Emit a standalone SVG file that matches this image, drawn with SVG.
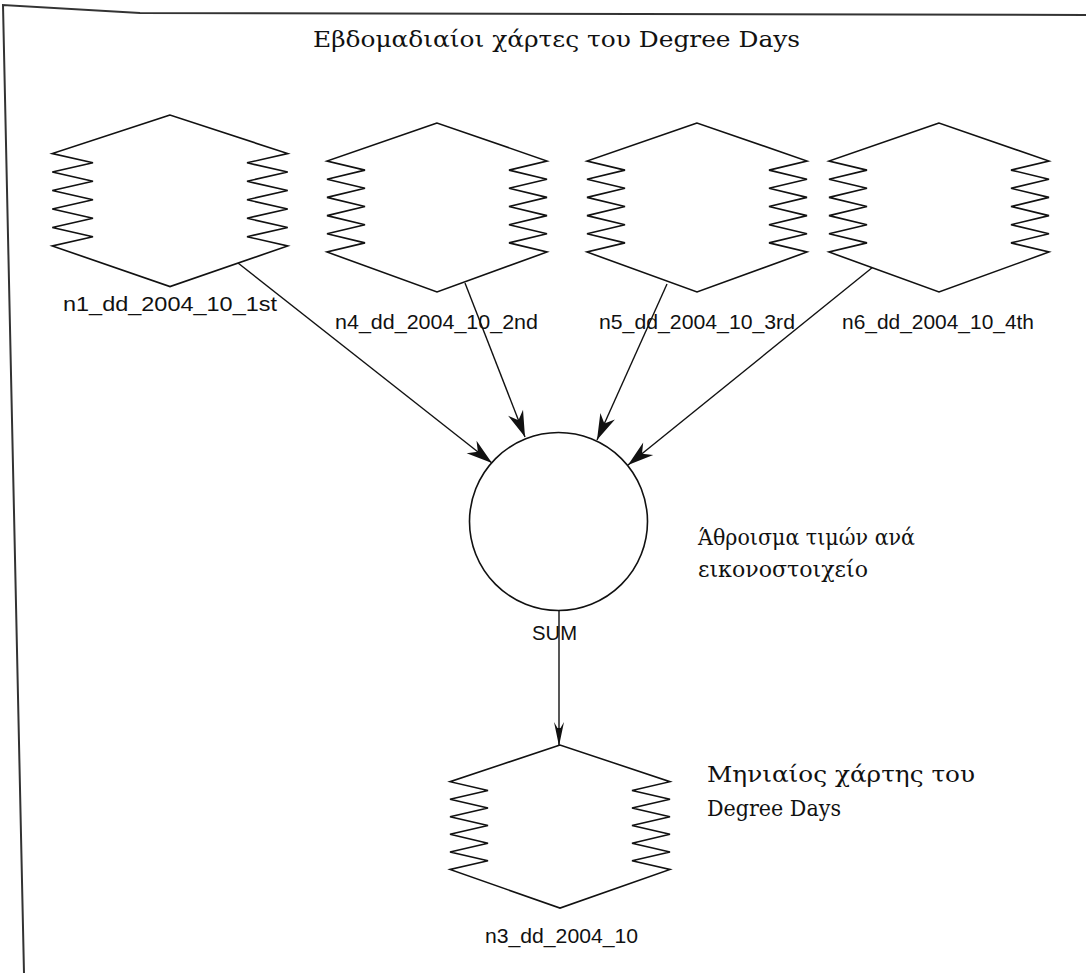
<svg xmlns="http://www.w3.org/2000/svg" width="1086" height="973" viewBox="0 0 1086 973">
<style>
.frame{fill:none;stroke:#333;stroke-width:2}
.shape{fill:#fff;stroke:#111;stroke-width:1.6;stroke-linejoin:miter;vector-effect:non-scaling-stroke}
.conn{fill:none;stroke:#111;stroke-width:1.4}
.lbl{font-family:"Liberation Sans",Arial,sans-serif;font-size:21px;fill:#111}
.gr{font-family:"DejaVu Serif","Liberation Serif",serif;font-size:22px;fill:#111}
</style>
<defs>
<path id="hex" d="M0,0 L-110,38 L-72,47.1 L-110,56.2 L-72,65.3 L-110,74.4 L-72,83.5 L-110,92.6 L-72,101.7 L-110,110.8 L-72,119.9 L-110,129 L0,169 L110,129 L72,119.9 L110,110.8 L72,101.7 L110,92.6 L72,83.5 L110,74.4 L72,65.3 L110,56.2 L72,47.1 L110,38 Z"/>
<marker id="arr" markerUnits="userSpaceOnUse" markerWidth="30" markerHeight="20" viewBox="-28 -10 30 20" refX="0" refY="0" orient="auto">
<path d="M0,0 L-26,-8 L-18,0 L-26,8 Z" fill="#111"/>
</marker>
<marker id="arrs" markerUnits="userSpaceOnUse" markerWidth="30" markerHeight="14" viewBox="-28 -7 30 14" refX="0" refY="0" orient="auto">
<path d="M0,0 L-24,-5 L-18,-1.5 L-18,1.5 L-24,5 Z" fill="#111"/>
</marker>
</defs>
<rect width="1086" height="973" fill="#fff"/>
<g id="frame">
<polyline class="frame" points="1086,15 140,13 3,5 24,973"/>
</g>
<text class="gr" x="313" y="47" textLength="487" lengthAdjust="spacingAndGlyphs">Εβδομαδιαίοι χάρτες του Degree Days</text>
<g id="connectors">
<line class="conn" x1="238" y1="263" x2="492" y2="463" marker-end="url(#arr)"/>
<line class="conn" x1="465" y1="283" x2="525" y2="437" marker-end="url(#arr)"/>
<line class="conn" x1="667" y1="284" x2="597" y2="440" marker-end="url(#arr)"/>
<line class="conn" x1="873" y1="267" x2="628" y2="465" marker-end="url(#arr)"/>
<line class="conn" x1="559" y1="610" x2="559" y2="746" marker-end="url(#arrs)"/>
</g>
<g id="n1">
<use href="#hex" class="shape" transform="translate(170,115) scale(1.07,1.015)"/>
<text class="lbl" x="63" y="311" textLength="214" lengthAdjust="spacingAndGlyphs">n1_dd_2004_10_1st</text>
</g>
<g id="n4">
<use href="#hex" class="shape" transform="translate(437,123)"/>
<text class="lbl" x="335" y="329" textLength="203" lengthAdjust="spacingAndGlyphs">n4_dd_2004_10_2nd</text>
</g>
<g id="n5">
<use href="#hex" class="shape" transform="translate(697,123)"/>
<text class="lbl" x="599" y="329" textLength="196" lengthAdjust="spacingAndGlyphs">n5_dd_2004_10_3rd</text>
</g>
<g id="n6">
<use href="#hex" class="shape" transform="translate(939,123)"/>
<text class="lbl" x="842" y="329" textLength="192" lengthAdjust="spacingAndGlyphs">n6_dd_2004_10_4th</text>
</g>
<g id="sum">
<circle class="shape" cx="558.5" cy="521.5" r="89"/>
<text class="lbl" x="532" y="640" textLength="45" lengthAdjust="spacingAndGlyphs">SUM</text>
<text class="gr" x="698" y="545" textLength="217" lengthAdjust="spacingAndGlyphs">Άθροισμα τιμών ανά</text>
<text class="gr" x="698" y="577" textLength="170" lengthAdjust="spacingAndGlyphs">εικονοστοιχείο</text>
</g>
<g id="n3">
<use href="#hex" class="shape" transform="translate(560,745) scale(1,0.965)"/>
<text class="lbl" x="485" y="943" textLength="153" lengthAdjust="spacingAndGlyphs">n3_dd_2004_10</text>
<text class="gr" x="707" y="782" textLength="268" lengthAdjust="spacingAndGlyphs">Μηνιαίος χάρτης του</text>
<text class="gr" x="707" y="816" textLength="134" lengthAdjust="spacingAndGlyphs">Degree Days</text>
</g>
</svg>
